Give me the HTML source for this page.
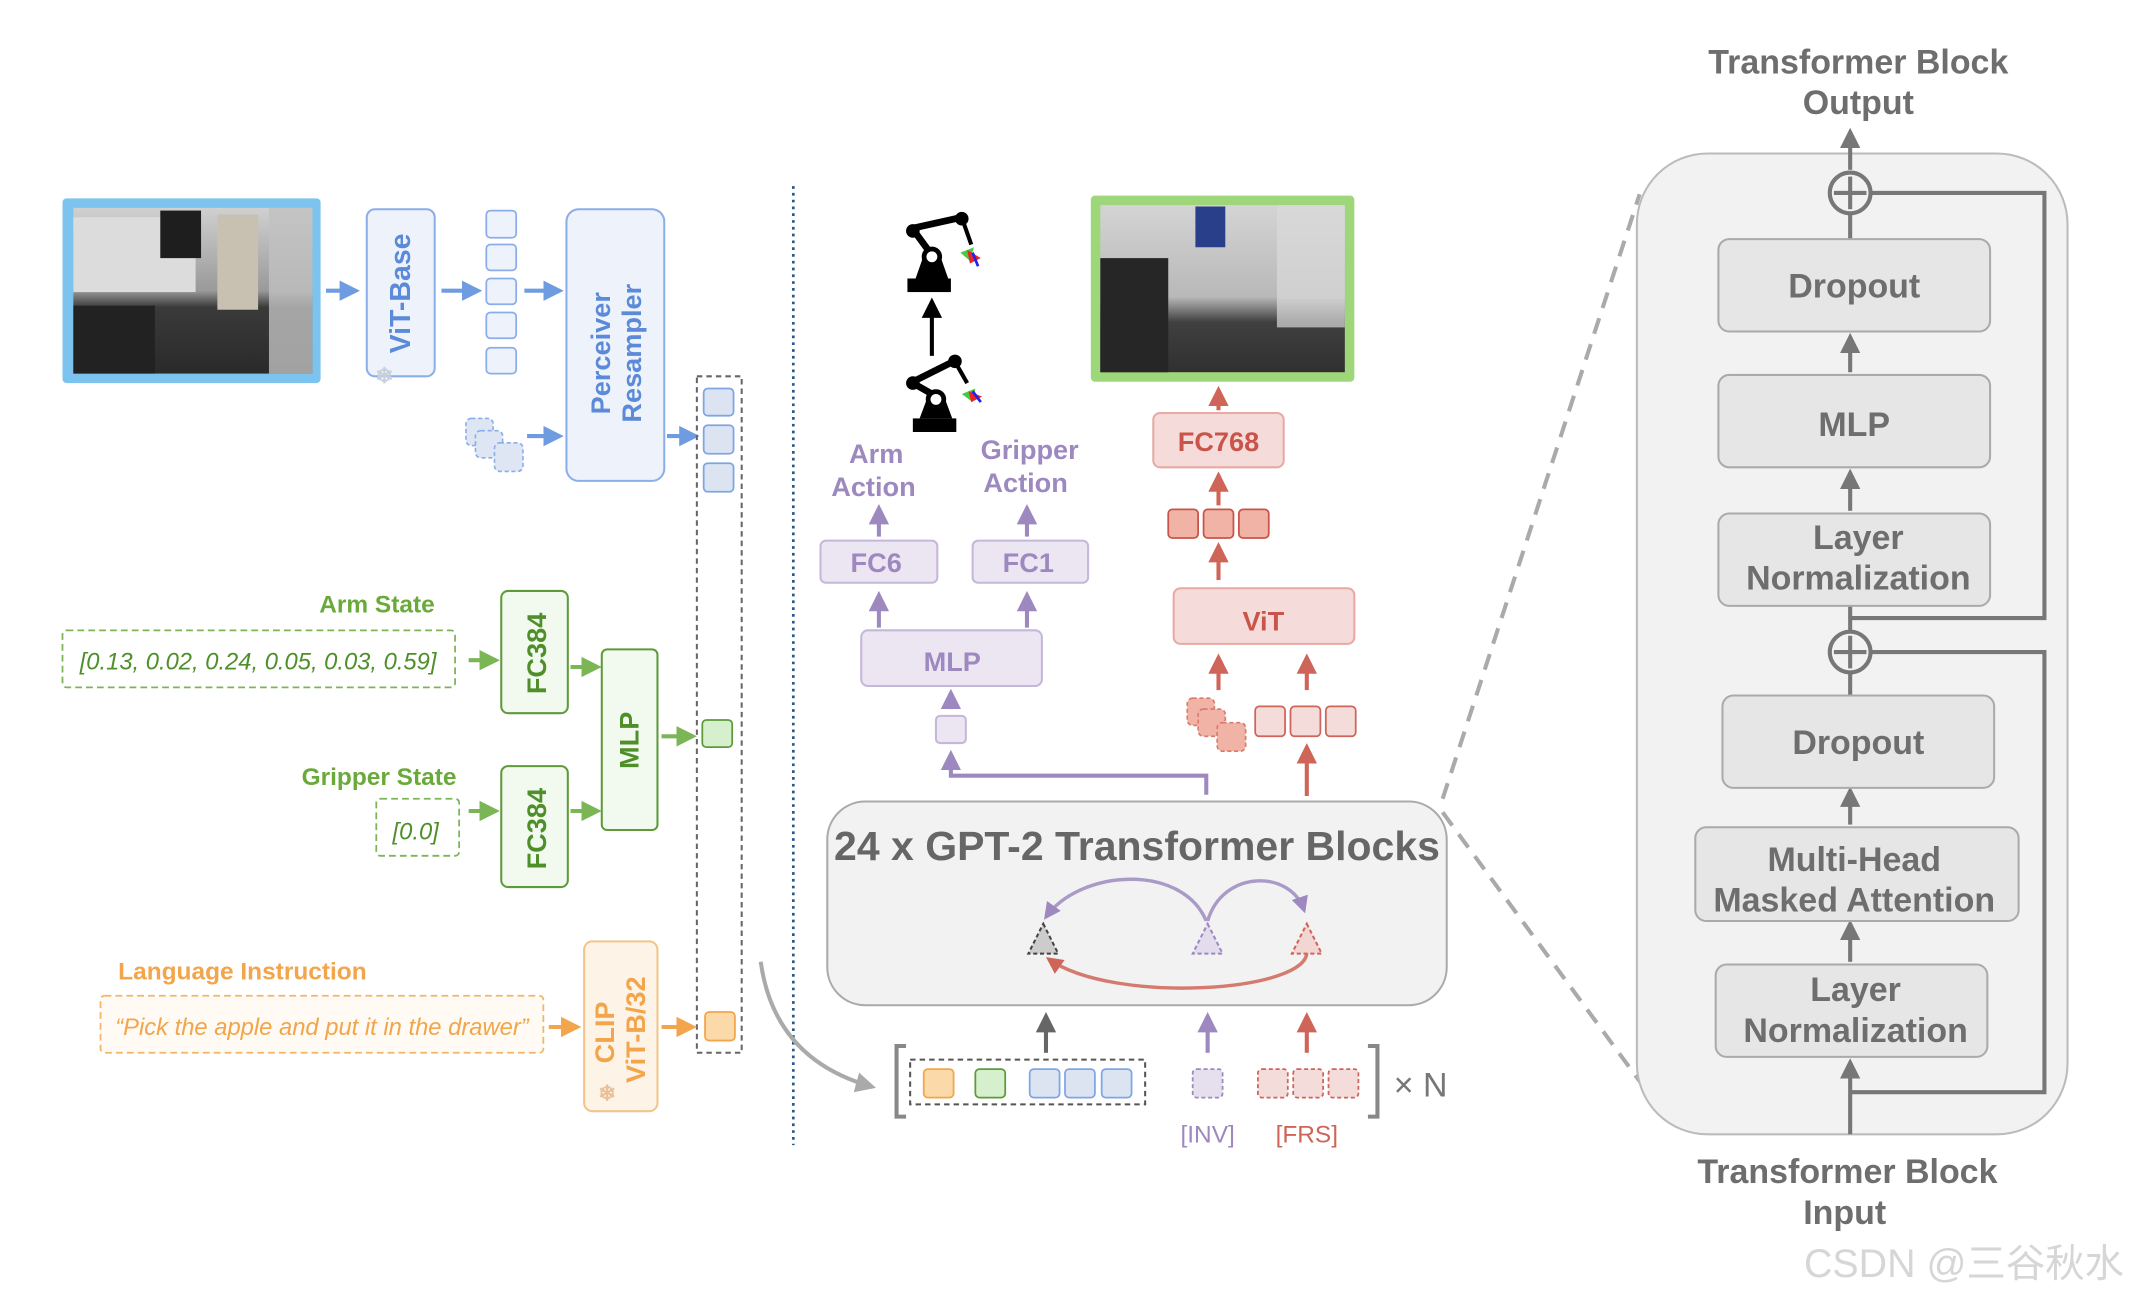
<!DOCTYPE html>
<html><head><meta charset="utf-8"><style>
html,body{margin:0;padding:0;background:#fff;}
svg{display:block;}
text{font-family:"Liberation Sans",sans-serif;font-weight:bold;}
</style></head><body>
<svg width="2130" height="1298" viewBox="0 0 1568 955.5" xmlns="http://www.w3.org/2000/svg">
<defs>
<marker id="ab" markerWidth="5" markerHeight="5" refX="4" refY="2.5" orient="auto" markerUnits="strokeWidth"><path d="M0,0 L5,2.5 L0,5 z" fill="#6f9be0"/></marker>
<marker id="ag" markerWidth="5" markerHeight="5" refX="4" refY="2.5" orient="auto" markerUnits="strokeWidth"><path d="M0,0 L5,2.5 L0,5 z" fill="#7cb556"/></marker>
<marker id="ao" markerWidth="5" markerHeight="5" refX="4" refY="2.5" orient="auto" markerUnits="strokeWidth"><path d="M0,0 L5,2.5 L0,5 z" fill="#f2a54a"/></marker>
<marker id="ap" markerWidth="5" markerHeight="5" refX="4" refY="2.5" orient="auto" markerUnits="strokeWidth"><path d="M0,0 L5,2.5 L0,5 z" fill="#9d88c0"/></marker>
<marker id="ar" markerWidth="5" markerHeight="5" refX="4" refY="2.5" orient="auto" markerUnits="strokeWidth"><path d="M0,0 L5,2.5 L0,5 z" fill="#cf6559"/></marker>
<marker id="ak" markerWidth="5" markerHeight="5" refX="4" refY="2.5" orient="auto" markerUnits="strokeWidth"><path d="M0,0 L5,2.5 L0,5 z" fill="#666"/></marker>
<marker id="abl" markerWidth="5" markerHeight="5" refX="4" refY="2.5" orient="auto" markerUnits="strokeWidth"><path d="M0,0 L5,2.5 L0,5 z" fill="#000"/></marker>
<marker id="agr" markerWidth="5" markerHeight="5" refX="4" refY="2.5" orient="auto" markerUnits="strokeWidth"><path d="M0,0 L5,2.5 L0,5 z" fill="#aaa"/></marker>
<marker id="a7" markerWidth="5" markerHeight="5" refX="4" refY="2.5" orient="auto" markerUnits="strokeWidth"><path d="M0,0 L5,2.5 L0,5 z" fill="#777"/></marker>
<linearGradient id="ph1" x1="0" y1="0" x2="0" y2="1"><stop offset="0" stop-color="#d0d0d0"/><stop offset="0.5" stop-color="#9a9a9a"/><stop offset="0.6" stop-color="#3a3a3a"/><stop offset="1" stop-color="#2a2a2a"/></linearGradient>
<linearGradient id="ph2" x1="0" y1="0" x2="0" y2="1"><stop offset="0" stop-color="#d4d4d4"/><stop offset="0.55" stop-color="#b8b8b8"/><stop offset="0.7" stop-color="#404040"/><stop offset="1" stop-color="#303030"/></linearGradient>
</defs>

<!-- left image -->
<rect x="46" y="146" width="190" height="136" rx="3" fill="#7cc4ef"/>
<rect x="54" y="153" width="176" height="122" fill="url(#ph1)"/>
<rect x="54" y="160" width="90" height="55" fill="#dcdcdc"/>
<rect x="160" y="158" width="30" height="70" fill="#c8c0b0"/>
<rect x="198" y="153" width="32" height="122" fill="#c0c0c0" opacity="0.8"/>
<rect x="118" y="155" width="30" height="35" fill="#1e1e1e"/>
<rect x="54" y="225" width="60" height="50" fill="#222"/>
<line x1="240" y1="214" x2="262" y2="214" stroke="#6f9be0" stroke-width="3" marker-end="url(#ab)"/>
<rect x="270" y="154" width="50" height="123" rx="6" fill="#eef3fb" stroke="#8badea" stroke-width="1.5"/>
<text transform="translate(302,216) rotate(-90)" text-anchor="middle" font-size="21" fill="#5b8ad8">ViT-Base</text>
<text x="283" y="282" font-size="16" fill="#c5cfe0" text-anchor="middle">❄</text>
<line x1="325" y1="214" x2="352" y2="214" stroke="#6f9be0" stroke-width="3" marker-end="url(#ab)"/>
<g fill="#eef3fb" stroke="#8badea" stroke-width="1.3">
<rect x="358" y="155" width="22" height="20" rx="3"/><rect x="358" y="180" width="22" height="19" rx="3"/><rect x="358" y="205" width="22" height="19" rx="3"/><rect x="358" y="230" width="22" height="19" rx="3"/><rect x="358" y="256" width="22" height="19" rx="3"/>
</g>
<line x1="386" y1="214" x2="412" y2="214" stroke="#6f9be0" stroke-width="3" marker-end="url(#ab)"/>
<rect x="417" y="154" width="72" height="200" rx="9" fill="#eef3fb" stroke="#8badea" stroke-width="1.5"/>
<text transform="translate(449,260) rotate(-90)" text-anchor="middle" font-size="20" fill="#5b8ad8">Perceiver</text>
<text transform="translate(472,260) rotate(-90)" text-anchor="middle" font-size="20" fill="#5b8ad8">Resampler</text>
<g fill="#dfe6f3" stroke="#8badea" stroke-width="1.2" stroke-dasharray="3,2">
<rect x="343" y="308" width="20" height="20" rx="4"/><rect x="350" y="317" width="20" height="20" rx="4"/><rect x="364" y="326" width="21" height="21" rx="4"/>
</g>
<line x1="388" y1="321" x2="412" y2="321" stroke="#6f9be0" stroke-width="3" marker-end="url(#ab)"/>
<line x1="491" y1="321" x2="512" y2="321" stroke="#6f9be0" stroke-width="3" marker-end="url(#ab)"/>

<!-- token column -->
<rect x="513" y="277" width="33" height="498" fill="none" stroke="#666" stroke-width="1.5" stroke-dasharray="4,3"/>
<g fill="#dce4f2" stroke="#7fa6e3" stroke-width="1.3">
<rect x="518" y="286" width="22" height="20" rx="3"/><rect x="518" y="313" width="22" height="21" rx="3"/><rect x="518" y="341" width="22" height="21" rx="3"/>
</g>
<rect x="517" y="530" width="22" height="20" rx="3" fill="#d6efcc" stroke="#5d9a3a" stroke-width="1.3"/>
<rect x="519" y="745" width="22" height="21" rx="3" fill="#fbd9a8" stroke="#f2a54a" stroke-width="1.3"/>

<!-- states -->
<text x="320" y="451" text-anchor="end" font-size="18" fill="#6aaa3a">Arm State</text>
<rect x="46" y="464" width="289" height="42" rx="3" fill="none" stroke="#7cb556" stroke-width="1.3" stroke-dasharray="5,3"/>
<text x="190" y="493" text-anchor="middle" font-size="17.5" font-style="italic" fill="#4f8f2a" style="font-weight:normal">[0.13, 0.02, 0.24, 0.05, 0.03, 0.59]</text>
<line x1="345" y1="486" x2="365" y2="486" stroke="#7cb556" stroke-width="3" marker-end="url(#ag)"/>
<rect x="369" y="435" width="49" height="90" rx="5" fill="#f2f9ee" stroke="#5d9a3a" stroke-width="1.5"/>
<text transform="translate(402,481) rotate(-90)" text-anchor="middle" font-size="20" fill="#4f8f2a">FC384</text>
<line x1="420" y1="491" x2="440" y2="491" stroke="#7cb556" stroke-width="3" marker-end="url(#ag)"/>
<rect x="443" y="478" width="41" height="133" rx="4" fill="#f2f9ee" stroke="#5d9a3a" stroke-width="1.5"/>
<text transform="translate(470,545) rotate(-90)" text-anchor="middle" font-size="20" fill="#4f8f2a">MLP</text>
<line x1="487" y1="542" x2="510" y2="542" stroke="#7cb556" stroke-width="3" marker-end="url(#ag)"/>
<text x="336" y="578" text-anchor="end" font-size="18" fill="#6aaa3a">Gripper State</text>
<rect x="277" y="588" width="61" height="42" rx="3" fill="none" stroke="#7cb556" stroke-width="1.3" stroke-dasharray="5,3"/>
<text x="306" y="618" text-anchor="middle" font-size="17.5" font-style="italic" fill="#4f8f2a" style="font-weight:normal">[0.0]</text>
<line x1="345" y1="597" x2="365" y2="597" stroke="#7cb556" stroke-width="3" marker-end="url(#ag)"/>
<rect x="369" y="564" width="49" height="89" rx="5" fill="#f2f9ee" stroke="#5d9a3a" stroke-width="1.5"/>
<text transform="translate(402,610) rotate(-90)" text-anchor="middle" font-size="20" fill="#4f8f2a">FC384</text>
<line x1="420" y1="597" x2="440" y2="597" stroke="#7cb556" stroke-width="3" marker-end="url(#ag)"/>

<!-- language -->
<text x="87" y="721" font-size="18" fill="#f2a54a">Language Instruction</text>
<rect x="74" y="733" width="326" height="42" rx="3" fill="#fffaf3" stroke="#f2b56a" stroke-width="1.3" stroke-dasharray="5,3"/>
<text x="237" y="762" text-anchor="middle" font-size="17.5" font-style="italic" fill="#f2a54a" style="font-weight:normal">“Pick the apple and put it in the drawer”</text>
<line x1="404" y1="756" x2="425" y2="756" stroke="#f2a54a" stroke-width="3" marker-end="url(#ao)"/>
<rect x="430" y="693" width="54" height="125" rx="6" fill="#fdf3e6" stroke="#f2c48a" stroke-width="1.5"/>
<text transform="translate(452,760) rotate(-90)" text-anchor="middle" font-size="20" fill="#f2a54a">CLIP</text>
<text transform="translate(475,758) rotate(-90)" text-anchor="middle" font-size="20" fill="#f2a54a">ViT-B/32</text>
<text x="447" y="810" font-size="16" fill="#e8c19a" text-anchor="middle">❄</text>
<line x1="487" y1="756" x2="510" y2="756" stroke="#f2a54a" stroke-width="3" marker-end="url(#ao)"/>

<!-- divider -->
<line x1="584" y1="137" x2="584" y2="843" stroke="#2a5a8a" stroke-width="2" stroke-dasharray="2,3"/>
<path d="M560,708 Q570,780 642,800" fill="none" stroke="#aaa" stroke-width="3" marker-end="url(#agr)"/>

<!-- robots -->
<g fill="#000" stroke="#000">
<rect x="668" y="205" width="32" height="10" stroke="none"/>
<path d="M674,205 L680,188 L692,188 L698,205 z" stroke="none"/>
<circle cx="686" cy="189" r="7" fill="#000"/><circle cx="686" cy="189" r="4" fill="#fff" stroke="none"/>
<line x1="684" y1="185" x2="673" y2="170" stroke-width="5"/>
<circle cx="672" cy="170" r="5" stroke="none"/>
<line x1="672" y1="168" x2="708" y2="160" stroke-width="5"/>
<circle cx="708" cy="161" r="5" stroke="none"/>
<line x1="709" y1="163" x2="715" y2="180" stroke-width="3"/>
<rect x="672" y="308" width="32" height="10" stroke="none"/>
<path d="M677,308 L683,292 L695,292 L701,308 z" stroke="none"/>
<circle cx="689" cy="294" r="7"/><circle cx="689" cy="294" r="4" fill="#fff" stroke="none"/>
<line x1="686" y1="290" x2="672" y2="282" stroke-width="5"/>
<circle cx="672" cy="282" r="5" stroke="none"/>
<line x1="672" y1="281" x2="702" y2="266" stroke-width="5"/>
<circle cx="703" cy="266" r="5" stroke="none"/>
<line x1="704" y1="268" x2="712" y2="282" stroke-width="3"/>
</g>
<path d="M707,186 L717,182 L714,192 z" fill="#4c4"/><path d="M712,184 L722,190 L714,194 z" fill="#e22"/><line x1="716" y1="186" x2="720" y2="196" stroke="#22e" stroke-width="2"/>
<path d="M708,290 L718,286 L716,296 z" fill="#4c4"/><path d="M713,288 L723,292 L715,296 z" fill="#e22"/><line x1="716" y1="288" x2="722" y2="296" stroke="#22e" stroke-width="2"/>
<line x1="686" y1="262" x2="686" y2="222" stroke="#000" stroke-width="3" marker-end="url(#abl)"/>

<!-- action head -->
<g fill="#9d88c0" font-size="20" text-anchor="middle">
<text x="645" y="341">Arm</text><text x="643" y="365">Action</text>
<text x="758" y="338">Gripper</text><text x="755" y="362">Action</text>
</g>
<g stroke="#9d88c0" stroke-width="3">
<line x1="647" y1="395" x2="647" y2="374" marker-end="url(#ap)"/>
<line x1="756" y1="395" x2="756" y2="374" marker-end="url(#ap)"/>
<line x1="647" y1="462" x2="647" y2="438" marker-end="url(#ap)"/>
<line x1="756" y1="462" x2="756" y2="438" marker-end="url(#ap)"/>
<line x1="700" y1="522" x2="700" y2="510" marker-end="url(#ap)"/>
<polyline points="888,585 888,571 700,571 700,555" fill="none" marker-end="url(#ap)"/>
</g>
<g fill="#ece6f2" stroke="#c5b7da" stroke-width="1.5">
<rect x="604" y="398" width="86" height="31" rx="4"/><rect x="716" y="398" width="85" height="31" rx="4"/>
<rect x="634" y="464" width="133" height="41" rx="5"/><rect x="689" y="527" width="22" height="20" rx="3"/>
</g>
<g fill="#9d88c0" font-size="20" text-anchor="middle">
<text x="645" y="421">FC6</text><text x="757" y="421">FC1</text><text x="701" y="494">MLP</text>
</g>

<!-- green image -->
<rect x="803" y="144" width="194" height="137" rx="3" fill="#9ed77a"/>
<rect x="810" y="151" width="180" height="123" fill="url(#ph2)"/>
<rect x="810" y="190" width="50" height="84" fill="#262626"/>
<rect x="880" y="152" width="22" height="30" fill="#2a3f8a"/>
<rect x="940" y="151" width="50" height="90" fill="#dadada" opacity="0.7"/>
<g stroke="#cf6559" stroke-width="3">
<line x1="897" y1="302" x2="897" y2="287" marker-end="url(#ar)"/>
<line x1="897" y1="372" x2="897" y2="350" marker-end="url(#ar)"/>
<line x1="897" y1="427" x2="897" y2="402" marker-end="url(#ar)"/>
<line x1="897" y1="508" x2="897" y2="484" marker-end="url(#ar)"/>
<line x1="962" y1="508" x2="962" y2="484" marker-end="url(#ar)"/>
<line x1="962" y1="586" x2="962" y2="550" marker-end="url(#ar)"/>
</g>
<rect x="849" y="304" width="96" height="40" rx="5" fill="#f5dcda" stroke="#e8a8a3" stroke-width="1.5"/>
<text x="897" y="332" text-anchor="middle" font-size="20" fill="#c9544a">FC768</text>
<g fill="#f0b3a5" stroke="#c9544a" stroke-width="1.3">
<rect x="860" y="375" width="22" height="21" rx="3"/><rect x="886" y="375" width="22" height="21" rx="3"/><rect x="912" y="375" width="22" height="21" rx="3"/>
</g>
<rect x="864" y="433" width="133" height="41" rx="5" fill="#f5dcda" stroke="#e8a8a3" stroke-width="1.5"/>
<text x="930" y="464" text-anchor="middle" font-size="20" fill="#c9544a">ViT</text>
<g fill="#f0b3a5" stroke="#d97a6c" stroke-width="1.2" stroke-dasharray="3,2">
<rect x="874" y="514" width="20" height="20" rx="4"/><rect x="882" y="522" width="20" height="20" rx="4"/><rect x="896" y="532" width="21" height="21" rx="4"/>
</g>
<g fill="#f4dcda" stroke="#d0645a" stroke-width="1.3">
<rect x="924" y="520" width="22" height="22" rx="3"/><rect x="950" y="520" width="22" height="22" rx="3"/><rect x="976" y="520" width="22" height="22" rx="3"/>
</g>

<!-- GPT block -->
<rect x="609" y="590" width="456" height="150" rx="28" fill="#f2f2f2" stroke="#aaa" stroke-width="1.5"/>
<text x="837" y="633" text-anchor="middle" font-size="30" fill="#666" textLength="446" lengthAdjust="spacingAndGlyphs">24 x GPT-2 Transformer Blocks</text>
<path d="M888,678 C870,635 795,640 770,675" fill="none" stroke="#a99ac7" stroke-width="2.5" marker-end="url(#ap)"/>
<path d="M889,678 C900,640 950,640 960,670" fill="none" stroke="#a99ac7" stroke-width="2.5" marker-end="url(#ap)"/>
<path d="M962,700 C965,730 820,740 772,706" fill="none" stroke="#d47a6e" stroke-width="2.5" marker-end="url(#ar)"/>
<path d="M768,680 L779,702 L757,702 z" fill="#ccc" stroke="#444" stroke-width="1.5" stroke-dasharray="3,2"/>
<path d="M889,680 L900,702 L878,702 z" fill="#e2dcec" stroke="#9d88c0" stroke-width="1.5" stroke-dasharray="3,2"/>
<path d="M962,680 L973,702 L951,702 z" fill="#f2d6d3" stroke="#cf6559" stroke-width="1.5" stroke-dasharray="3,2"/>

<!-- input sequence -->
<line x1="770" y1="775" x2="770" y2="748" stroke="#666" stroke-width="3" marker-end="url(#ak)"/>
<line x1="889" y1="775" x2="889" y2="748" stroke="#9d88c0" stroke-width="3" marker-end="url(#ap)"/>
<line x1="962" y1="775" x2="962" y2="748" stroke="#cf6559" stroke-width="3" marker-end="url(#ar)"/>
<polyline points="667,770 660,770 660,822 667,822" fill="none" stroke="#888" stroke-width="3"/>
<polyline points="1007,770 1014,770 1014,822 1007,822" fill="none" stroke="#888" stroke-width="3"/>
<rect x="670" y="780" width="173" height="33" fill="none" stroke="#555" stroke-width="1.5" stroke-dasharray="4,3"/>
<rect x="680" y="787" width="22" height="21" rx="3" fill="#fbd9a8" stroke="#f2a54a" stroke-width="1.3"/>
<rect x="718" y="787" width="22" height="21" rx="3" fill="#d6efcc" stroke="#5d9a3a" stroke-width="1.3"/>
<g fill="#dce4f2" stroke="#7fa6e3" stroke-width="1.3">
<rect x="758" y="787" width="22" height="21" rx="3"/><rect x="784" y="787" width="22" height="21" rx="3"/><rect x="811" y="787" width="22" height="21" rx="3"/>
</g>
<rect x="878" y="787" width="22" height="21" rx="3" fill="#e6e0ee" stroke="#9d88c0" stroke-width="1.3" stroke-dasharray="3,2"/>
<g fill="#f4dcda" stroke="#d0645a" stroke-width="1.3" stroke-dasharray="3,2">
<rect x="926" y="787" width="22" height="21" rx="3"/><rect x="952" y="787" width="22" height="21" rx="3"/><rect x="978" y="787" width="22" height="21" rx="3"/>
</g>
<text x="1026" y="807" font-size="25" fill="#777" style="font-weight:normal">× N</text>
<text x="889" y="841" text-anchor="middle" font-size="18" fill="#9d88c0" style="font-weight:normal">[INV]</text>
<text x="962" y="841" text-anchor="middle" font-size="18" fill="#cf6559" style="font-weight:normal">[FRS]</text>

<!-- zoom lines -->
<line x1="1062" y1="588" x2="1207" y2="143" stroke="#aaa" stroke-width="3" stroke-dasharray="12,8"/>
<line x1="1062" y1="598" x2="1210" y2="800" stroke="#aaa" stroke-width="3" stroke-dasharray="12,8"/>

<!-- right panel -->
<rect x="1205" y="113" width="317" height="722" rx="52" fill="#f2f2f2" stroke="#bbb" stroke-width="1.5"/>
<g font-size="25" fill="#6e6e6e" text-anchor="middle">
<text x="1368" y="54">Transformer Block</text><text x="1368" y="84">Output</text>
<text x="1360" y="871">Transformer Block</text><text x="1358" y="901">Input</text>
</g>
<g stroke="#777" stroke-width="3" fill="none">
<line x1="1362" y1="125" x2="1362" y2="97" marker-end="url(#a7)"/>
<polyline points="1377,142 1505,142 1505,455 1362,455"/>
<polyline points="1377,480 1505,480 1505,804 1362,804"/>
<line x1="1362" y1="835" x2="1362" y2="782" marker-end="url(#a7)"/>
<line x1="1362" y1="176" x2="1362" y2="157"/>
<line x1="1362" y1="274" x2="1362" y2="248" marker-end="url(#a7)"/>
<line x1="1362" y1="376" x2="1362" y2="348" marker-end="url(#a7)"/>
<line x1="1362" y1="465" x2="1362" y2="446"/>
<line x1="1362" y1="512" x2="1362" y2="495"/>
<line x1="1362" y1="607" x2="1362" y2="582" marker-end="url(#a7)"/>
<line x1="1362" y1="708" x2="1362" y2="680" marker-end="url(#a7)"/>
<circle cx="1362" cy="142" r="15" fill="#f2f2f2"/><line x1="1350" y1="142" x2="1374" y2="142"/><line x1="1362" y1="130" x2="1362" y2="154"/>
<circle cx="1362" cy="480" r="15" fill="#f2f2f2"/><line x1="1350" y1="480" x2="1374" y2="480"/><line x1="1362" y1="468" x2="1362" y2="492"/>
</g>
<g fill="#e6e6e6" stroke="#aaa" stroke-width="1.5">
<rect x="1265" y="176" width="200" height="68" rx="8"/>
<rect x="1265" y="276" width="200" height="68" rx="8"/>
<rect x="1265" y="378" width="200" height="68" rx="8"/>
<rect x="1268" y="512" width="200" height="68" rx="8"/>
<rect x="1248" y="609" width="238" height="69" rx="8"/>
<rect x="1263" y="710" width="200" height="68" rx="8"/>
</g>
<g font-size="25" fill="#6e6e6e" text-anchor="middle">
<text x="1365" y="219">Dropout</text>
<text x="1365" y="321">MLP</text>
<text x="1368" y="404">Layer</text><text x="1368" y="434">Normalization</text>
<text x="1368" y="555">Dropout</text>
<text x="1365" y="641">Multi-Head</text><text x="1365" y="671">Masked Attention</text>
<text x="1366" y="737">Layer</text><text x="1366" y="767">Normalization</text>
</g>
<text x="1328" y="940" font-size="29" fill="#d6d6d6" style="font-weight:normal;font-family:'Liberation Sans','Noto Sans CJK SC',sans-serif">CSDN @三谷秋水</text>
</svg>
</body></html>
